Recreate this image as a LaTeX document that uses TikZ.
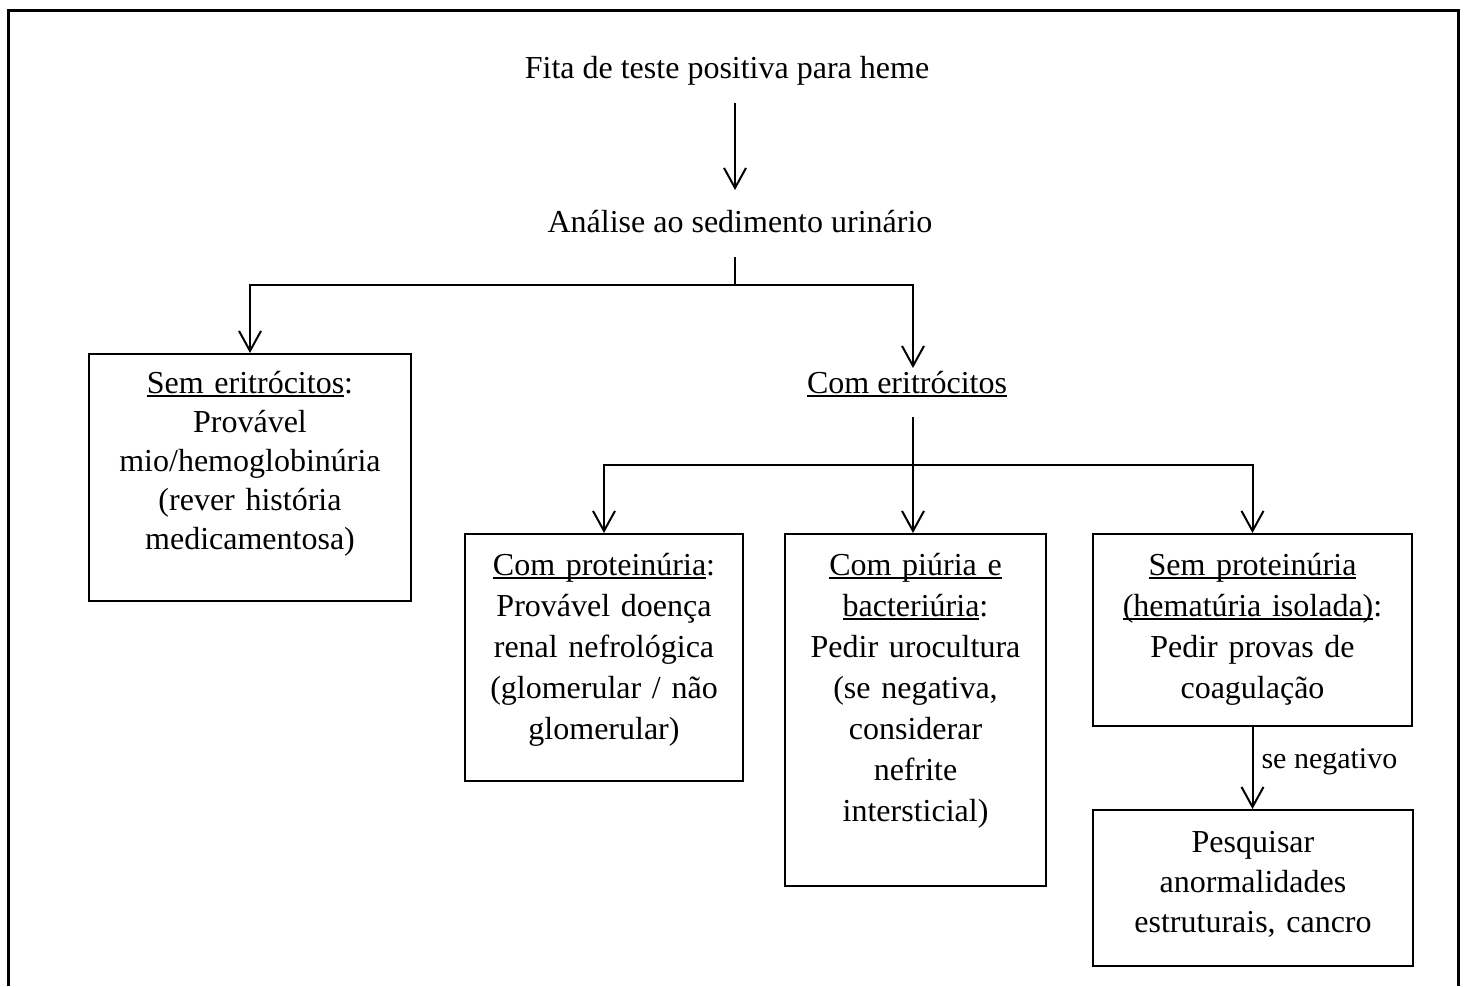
\documentclass[tikz,border=0pt]{standalone}
\usepackage{fontspec}
\setmainfont{Liberation Serif}
\usetikzlibrary{arrows.meta}
\newcommand\ulx[1]{\leavevmode\setbox0\hbox{#1}\rlap{\rule[-4pt]{\wd0}{1.6pt}}\box0}
\begin{document}
\begin{tikzpicture}[x=1pt,y=-1pt, line width=2pt,
  every node/.style={inner sep=0pt, font=\fontsize{32}{41}\selectfont},
  boxnode/.style={draw, line width=2pt, anchor=north west},
  txt/.style={anchor=base, align=center},
  boxtxt/.style={anchor=base, align=center, text width=#1},
  arr/.style={-{Straight Barb[length=20pt,width=22pt]}},
]
\useasboundingbox (0,0) rectangle (1464,986);
\draw[line width=3pt] (8,986) -- (8,10) -- (1458,10) -- (1458,986);

% top texts
\node[txt] (fita) at (727,78) {Fita de teste positiva para heme};
\node[txt] (analise) at (740,232) {Análise ao sedimento urinário};
\node[txt] (comeri) at (907,393) {\ulx{Com eritrócitos}};

% boxes
\node[boxnode, minimum width=322pt, minimum height=247pt] (b1) at (88,353) {};
\node[boxnode, minimum width=278pt, minimum height=247pt] (b2) at (464,533) {};
\node[boxnode, minimum width=261pt, minimum height=352pt] (b3) at (784,533) {};
\node[boxnode, minimum width=319pt, minimum height=192pt] (b4) at (1092,533) {};
\node[boxnode, minimum width=320pt, minimum height=156pt] (b5) at (1092,809) {};

% box texts
\node[boxtxt=310pt, font=\fontsize{32}{39}\selectfont] (t1) at (b1.north |- 0,393)
  {\ulx{Sem eritrócitos}:\\Provável\\mio/hemoglobinúria\\(rever história\\medicamentosa)};
\node[boxtxt=268pt] (t2) at (b2.north |- 0,575)
  {\ulx{Com proteinúria}:\\Provável doença\\renal nefrológica\\(glomerular / não\\glomerular)};
\node[boxtxt=252pt] (t3) at (b3.north |- 0,575)
  {\ulx{Com piúria e}\\\ulx{bacteriúria}:\\Pedir urocultura\\(se negativa,\\considerar\\nefrite\\intersticial)};
\node[boxtxt=310pt] (t4) at (b4.north |- 0,575)
  {\ulx{Sem proteinúria}\\\ulx{(hematúria isolada)}:\\Pedir provas de\\coagulação};
\node[boxtxt=310pt, font=\fontsize{32}{40}\selectfont] (t5) at (b5.north |- 0,852)
  {Pesquisar\\anormalidades\\estruturais, cancro};

% connector coordinates
\coordinate (a1s) at (735,103);
\coordinate (a1e) at (735,190);
\coordinate (s1) at (735,257);
\coordinate (h1) at (735,285);
\coordinate (ce) at (913,368);
\coordinate (s2) at (913,417);
\coordinate (h2) at (913,465);

% connectors
\draw[arr] (a1s) -- (a1e);
\draw (s1) -- (h1);
\draw[arr] (h1) -| (b1.north);
\draw[arr] (h1) -| (ce);
\draw (s2) -- (h2);
\draw[arr] (h2) -| (b2.north);
\draw[arr] (h2) -- (h2 |- b3.north);
\draw[arr] (h2) -| (b4.north);
\draw[arr] (b4.south) -- (b4.south |- b5.north)
  node[pos=0.5, anchor=base west, xshift=8pt, font=\fontsize{30}{36}\selectfont] (neg) {se negativo};
\end{tikzpicture}
\end{document}
